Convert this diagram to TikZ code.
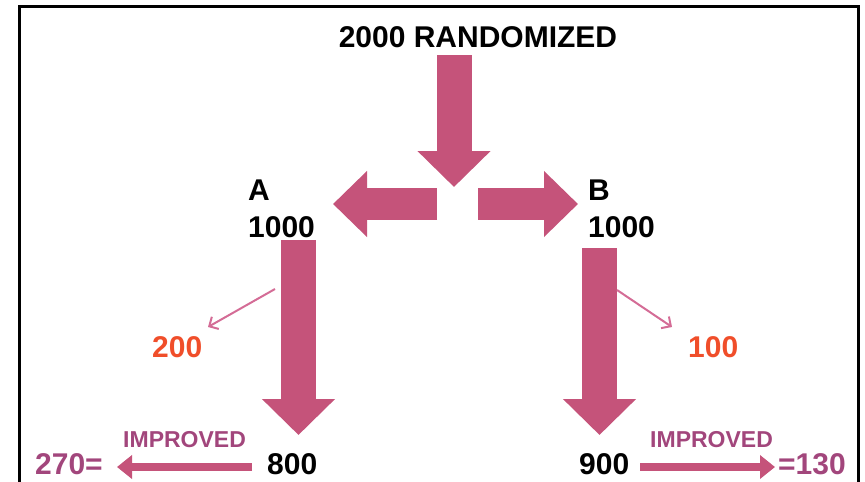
\documentclass[tikz,border=0pt]{standalone}
\usepackage{fontspec}
\setmainfont{Liberation Sans}
\usetikzlibrary{arrows.meta}

\definecolor{rose}{RGB}{197,83,122}
\definecolor{thinrose}{RGB}{212,108,150}
\definecolor{orangered}{RGB}{240,78,42}
\definecolor{mauve}{RGB}{162,70,124}

\begin{document}
\begin{tikzpicture}[x=1pt,y=-1pt,
    lbl/.style={inner sep=0pt,anchor=base west,font=\fontsize{30}{36}\selectfont\bfseries},
    drop/.style={lbl,text=orangered},
    gain/.style={lbl,text=mauve},
    improved/.style={gain,font=\fontsize{23}{28}\selectfont\bfseries},
    bigarrow/.style={rose,line width=35pt,-{Triangle[length=36pt,width=71pt]}},
    sidearrow/.style={rose,line width=32pt,-{Triangle[length=34pt,width=64pt]}},
    smallarrow/.style={rose,line width=8pt,-{Triangle[length=15pt,width=23pt]}},
    lossline/.style={thinrose,line width=2pt,-{Straight Barb[length=7pt,width=14pt]}}]
    \useasboundingbox (0,0) rectangle (865,482);
    \draw[line width=3pt] (19,6) rectangle (858,500);

    % labels
    \node[lbl,anchor=base] (rand) at (478,47) {2000 RANDOMIZED};
    \node[lbl] (a)  at (248,200) {A};
    \node[lbl] (na) at (248,237) {1000};
    \node[lbl] (b)  at (588,200) {B};
    \node[lbl] (nb) at (588,237) {1000};
    \node[drop] (lossa) at (152,357) {200};
    \node[drop] (lossb) at (688,357) {100};
    \node[lbl] (enda) at (267,474) {800};
    \node[lbl] (endb) at (579,474) {900};
    \node[gain] (ratea) at (35,474) {270=};
    \node[gain] (rateb) at (778,474) {=130};
    \node[improved] (impa) at (123,447) {IMPROVED};
    \node[improved] (impb) at (650,447) {IMPROVED};

    % arrow ends
    \coordinate (top)   at (454,55);
    \coordinate (split) at (454,187);
    \coordinate (outa)  at (437,204);
    \coordinate (toa)   at (333,204);
    \coordinate (outb)  at (478,204);
    \coordinate (tob)   at (578,204);
    \coordinate (froma) at (298.5,240);
    \coordinate (downa) at (298.5,435);
    \coordinate (fromb) at (599.5,248);
    \coordinate (downb) at (599.5,435);
    \coordinate (taila) at (252,467);
    \coordinate (heada) at (117,467);
    \coordinate (tailb) at (640,467);
    \coordinate (headb) at (775,467);
    \coordinate (sidea) at (275,289);
    \coordinate (losta) at (208,327);
    \coordinate (sideb) at (617,290);
    \coordinate (lostb) at (672,327);

    \draw[bigarrow] (top) -- (split);
    \draw[sidearrow] (outa) -- (toa);
    \draw[sidearrow] (outb) -- (tob);
    \draw[bigarrow] (froma) -- (downa);
    \draw[bigarrow] (fromb) -- (downb);
    \draw[smallarrow] (taila) -- (heada);
    \draw[smallarrow] (tailb) -- (headb);
    \draw[lossline] (sidea) -- (losta);
    \draw[lossline] (sideb) -- (lostb);
\end{tikzpicture}
\end{document}
